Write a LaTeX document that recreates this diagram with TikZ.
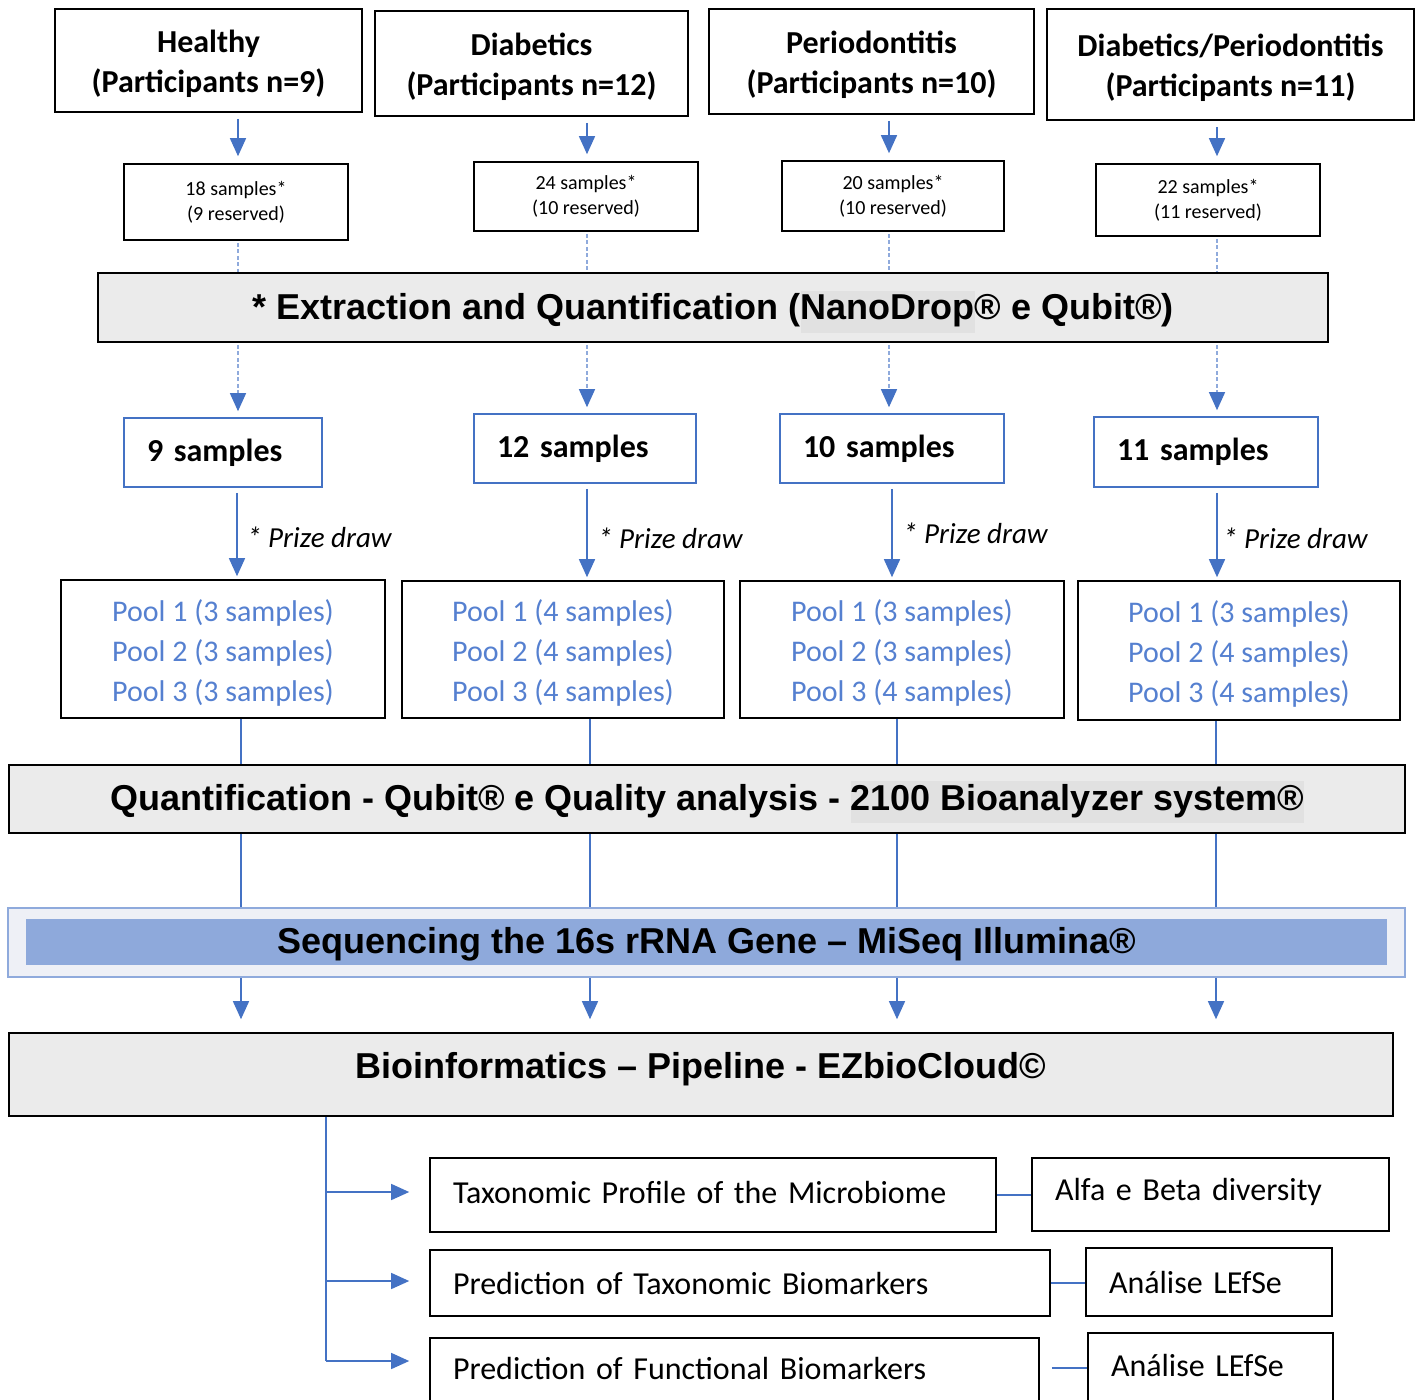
\documentclass[tikz,border=0pt]{standalone}
\usepackage{fontspec}
\setmainfont{Carlito}
\newfontfamily\arialf{Liberation Sans}
\usetikzlibrary{arrows.meta}
\definecolor{bl}{HTML}{4472C4}
\definecolor{pl}{HTML}{5580D0}
\definecolor{dl}{HTML}{8FAADC}
\definecolor{gbar}{HTML}{EBEBEB}
\definecolor{hlg}{HTML}{E1E1E1}
\definecolor{sblue}{HTML}{8EA9DB}
\definecolor{sfill}{HTML}{EEF0F6}
\newcommand\hlbox[1]{{\setlength\fboxsep{0pt}\colorbox{hlg}{\strut#1}}}
\newcommand\shiftt[2]{\raisebox{#1}[\height][\depth]{#2}}
\newcommand\mlines[2]{\raisebox{#1}[\height][\depth]{\begin{tabular}{@{}c@{}}#2\end{tabular}}}
\begin{document}
\begin{tikzpicture}[x=1pt,y=-1pt,
  tb/.style={draw, line width=1.6pt, inner sep=0pt, font=\fontsize{32}{40}\selectfont\bfseries},
  sb/.style={draw, line width=1.6pt, align=center, inner sep=0pt, font=\fontsize{20}{25}\selectfont},
  bar/.style={draw, line width=1.6pt, fill=gbar, inner sep=0pt, font=\arialf\bfseries\fontsize{36}{42}\selectfont},
  mb/.style={draw=bl, line width=1.6pt, inner xsep=23pt, inner ysep=0pt, align=left, font=\fontsize{32}{40}\selectfont\bfseries},
  pb/.style={draw, line width=1.6pt, text=pl, inner sep=0pt, font=\fontsize{30}{40}\selectfont},
  ob/.style={draw, line width=1.6pt, inner xsep=23pt, inner ysep=0pt, align=left, font=\fontsize{32}{40}\selectfont},
  prize/.style={font=\fontsize{29}{35}\selectfont\itshape, inner sep=0pt, anchor=west},
  arr/.style={draw=bl, line width=1.8pt, -{Triangle[width=16pt,length=18pt]}},
  darr/.style={draw=dl, line width=1.3pt, dash pattern=on 4pt off 2.5pt, -{Triangle[width=16pt,length=18pt,color=bl]}},
  dsh/.style={draw=dl, line width=1.3pt, dash pattern=on 4pt off 2.5pt},
  ln/.style={draw=bl, line width=1.4pt},
]
\useasboundingbox (0,0) rectangle (1419,1400);
\clip (0,0) rectangle (1419,1400);

% column coordinates
\coordinate (c1) at (238,0); \coordinate (c2) at (587,0);
\coordinate (c3) at (889,0); \coordinate (c4) at (1217,0);
\coordinate (d1) at (237,0); \coordinate (d2) at (587,0);
\coordinate (d3) at (892,0); \coordinate (d4) at (1217,0);
\coordinate (k1) at (241,0); \coordinate (k2) at (590,0);
\coordinate (k3) at (897,0); \coordinate (k4) at (1216,0);

% top boxes
\node[tb, minimum width=307pt, minimum height=103pt] (h1) at (208.5,60.5) {\mlines{-4pt}{Healthy\\(Participants n=9)}};
\node[tb, minimum width=313pt, minimum height=105pt] (h2) at (531.5,63.5) {\mlines{-4pt}{Diabetics\\(Participants n=12)}};
\node[tb, minimum width=325pt, minimum height=105pt] (h3) at (871.5,61.5) {\mlines{-4pt}{Periodontitis\\(Participants n=10)}};
\node[tb, minimum width=367pt, minimum height=111pt] (h4) at (1230.5,64.5) {\mlines{-4pt}{Diabetics/Periodontitis\\(Participants n=11)}};

% sample boxes
\node[sb, minimum width=224pt, minimum height=76pt] (s1) at (236,202) {18 samples*\\(9 reserved)};
\node[sb, minimum width=224pt, minimum height=69pt] (s2) at (586,196.5) {24 samples*\\(10 reserved)};
\node[sb, minimum width=222pt, minimum height=70pt] (s3) at (893,196) {20 samples*\\(10 reserved)};
\node[sb, minimum width=224pt, minimum height=72pt] (s4) at (1208,200) {22 samples*\\(11 reserved)};

\foreach \i in {1,2,3,4}{
  \draw[arr, line width=1.5pt, shorten <=6pt, shorten >=7pt] (h\i.south -| c\i) -- (s\i.north -| c\i);
}

% extraction bar
\node[bar, minimum width=1230pt, minimum height=69pt] (ext) at (713,307.5)
  {\shiftt{-4pt}{* Extraction and Quantification (\hlbox{NanoDrop}® e Qubit®)}};

% mid sample boxes
\node[mb, text width=152pt, minimum height=69pt] (m1) at (223,452.5) {9 samples};
\node[mb, text width=176pt, minimum height=69pt] (m2) at (585,448.5) {12 samples};
\node[mb, text width=178pt, minimum height=69pt] (m3) at (892,448.5) {10 samples};
\node[mb, text width=178pt, minimum height=70pt] (m4) at (1206,452) {11 samples};

\foreach \i in {1,2,3,4}{
  \draw[dsh, shorten <=2pt] (s\i.south -| c\i) -- (ext.north -| c\i);
  \draw[darr, shorten <=2pt, shorten >=6pt] (ext.south -| c\i) -- (m\i.north -| c\i);
}

% pools
\node[pb, minimum width=324pt, minimum height=138pt] (p1) at (223,649) {\mlines{-4pt}{Pool 1 (3 samples)\\Pool 2 (3 samples)\\Pool 3 (3 samples)}};
\node[pb, minimum width=322pt, minimum height=137pt] (p2) at (563,649.5) {\mlines{-4pt}{Pool 1 (4 samples)\\Pool 2 (4 samples)\\Pool 3 (4 samples)}};
\node[pb, minimum width=324pt, minimum height=137pt] (p3) at (902,649.5) {\mlines{-4pt}{Pool 1 (3 samples)\\Pool 2 (3 samples)\\Pool 3 (4 samples)}};
\node[pb, minimum width=322pt, minimum height=139pt] (p4) at (1239,650.5) {\mlines{-4pt}{Pool 1 (3 samples)\\Pool 2 (4 samples)\\Pool 3 (4 samples)}};

% prize draw arrows
\foreach \i in {1,2,3,4}{
  \draw[arr, line width=1.5pt, shorten <=5pt, shorten >=3pt] (m\i.south -| d\i) -- (p\i.north -| d\i);
}
\node[prize] (z1) at (247,537) {* Prize draw};
\node[prize] (z2) at (598,538) {* Prize draw};
\node[prize] (z3) at (903,533) {* Prize draw};
\node[prize] (z4) at (1223,538) {* Prize draw};

% quantification bar
\node[bar, minimum width=1396pt, minimum height=68pt] (q) at (707,799)
  {\shiftt{-3pt}{Quantification - Qubit® e Quality analysis - \hlbox{2100 Bioanalyzer system®}}};

% sequencing bar
\node[draw=dl, line width=2pt, fill=sfill, minimum width=1397pt, minimum height=69pt, inner sep=0pt] (seqo) at (706.5,942.5) {};
\node[fill=sblue, minimum width=1361pt, minimum height=46pt, inner sep=0pt,
  font=\arialf\bfseries\fontsize{36}{42}\selectfont] (seqi) at (706.5,942) {\shiftt{-2.5pt}{Sequencing the 16s rRNA Gene – MiSeq Illumina®}};

% bioinformatics
\node[bar, minimum width=1384pt, minimum height=83pt] (bio) at (701,1074.5)
  {\shiftt{5pt}{Bioinformatics – Pipeline - EZbioCloud©}};

\foreach \i in {1,2,3,4}{
  \draw[ln] (p\i.south -| k\i) -- (q.north -| k\i);
  \draw[ln] (q.south -| k\i) -- (seqo.north -| k\i);
  \draw[arr, line width=1.4pt, shorten >=13pt] (seqo.south -| k\i) -- (bio.north -| k\i);
}

% bottom boxes
\node[ob, text width=520pt, minimum height=74pt] (t1) at (713,1195) {\shiftt{3pt}{Taxonomic Profile of the Microbiome}};
\node[ob, text width=311pt, minimum height=73pt] (a1) at (1210.5,1194.5) {\shiftt{3pt}{Alfa e Beta diversity}};
\node[ob, text width=574pt, minimum height=66pt] (t2) at (740,1283) {Prediction of Taxonomic Biomarkers};
\node[ob, text width=200pt, minimum height=68pt] (a2) at (1209,1282) {Análise LEfSe};
\node[ob, text width=563pt, minimum height=72pt, text depth=12pt] (t3) at (734.5,1374) {Prediction of Functional Biomarkers};
\node[ob, text width=199pt, minimum height=77pt, text depth=12pt] (a3) at (1210.5,1371.5) {Análise LEfSe};

% bracket
\coordinate (br) at (326,0);
\coordinate (r1) at (0,1192);
\coordinate (r2) at (0,1281);
\coordinate (r3) at (0,1361);
\draw[ln] (bio.south -| br) -- (br |- r3);
\draw[arr, line width=1.4pt, shorten >=20pt] (br |- r1) -- (t1.west |- r1);
\draw[arr, line width=1.4pt, shorten >=20pt] (br |- r2) -- (t2.west |- r2);
\draw[arr, line width=1.4pt, shorten >=20pt] (br |- r3) -- (t3.west |- r3);

\draw[ln] (t1.east) -- (a1.west |- t1.east);
\draw[ln] (t2.east) -- (a2.west |- t2.east);
\coordinate (r4) at (0,1368);
\draw[ln, shorten <=12pt] (t3.east |- r4) -- (a3.west |- r4);
\end{tikzpicture}
\end{document}
